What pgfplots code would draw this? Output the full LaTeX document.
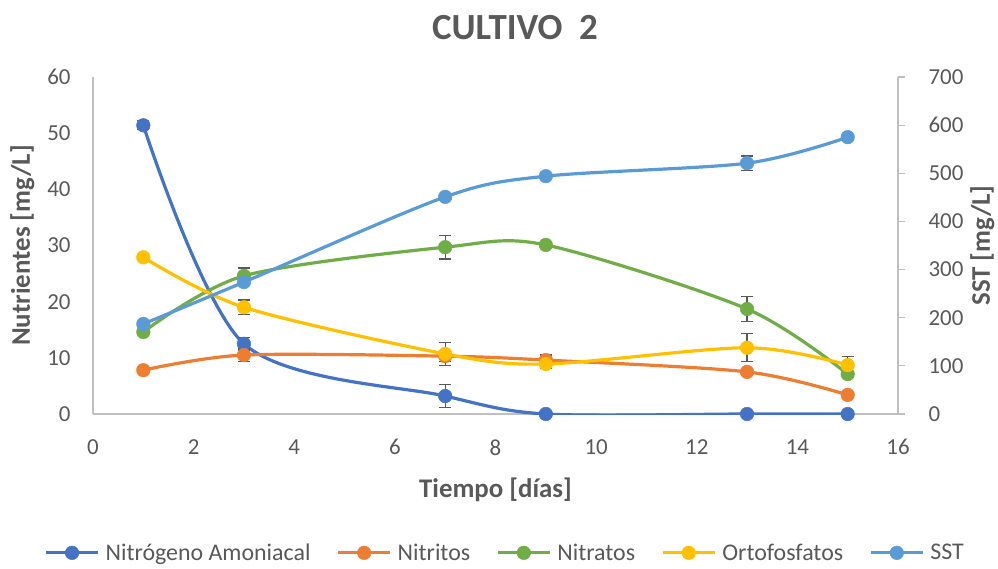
\documentclass[border=0pt]{standalone}
\usepackage{pgfplots}
\pgfplotsset{compat=1.18}
\usepackage{fontspec}
\setmainfont{Carlito}
\definecolor{txt}{RGB}{89,89,89}
\definecolor{axln}{RGB}{191,191,191}
\definecolor{cN}{HTML}{4472C4}
\definecolor{cNi}{HTML}{ED7D31}
\definecolor{cNa}{HTML}{70AD47}
\definecolor{cO}{HTML}{FFC000}
\definecolor{cS}{HTML}{5B9BD5}
\pgfplotsset{
  base/.style={
    scale only axis, width=805bp, height=337bp,
    xmin=0, xmax=16, xtick={0,2,...,16},
    axis line style={axln, line width=1.2bp},
    tick label style={font=\fontsize{23}{27}\selectfont, text=txt},
    label style={font=\fontsize{27}{32}\selectfont\bfseries, text=txt},
    /pgf/number format/assume math mode=true,
    major tick length=0pt,
  },
  ser/.style={color=#1, line width=3.2bp, smooth, tension=0.5, mark=*, mark size=6.8bp,
    mark options={solid, fill=#1, draw=#1, line width=0.5bp},
    error bars/.cd, y dir=both, y explicit,
    error bar style={color=txt, line width=1.2bp},
    error mark options={rotate=90, mark size=6bp, line width=1.2bp, color=txt}},
}
\begin{document}
\begin{tikzpicture}
\useasboundingbox (-93bp,-155bp) rectangle (905bp,414bp);
\begin{axis}[base,
  ymin=0, ymax=60, ytick={0,10,...,60},
  axis x line*=bottom, axis y line*=left,
  xlabel={Tiempo [días]}, ylabel={Nutrientes [mg/L]},
  xticklabel style={yshift=-22bp},
  yticklabel style={xshift=-19bp},
  xlabel style={yshift=-16bp},
  ylabel style={yshift=6bp},
  legend columns=5,
  legend style={at={(0.512,-0.412)}, anchor=center, draw=none,
    font=\fontsize{24}{28}\selectfont, text=txt,
    /tikz/every odd column/.append style={column sep=4bp},
    /tikz/every even column/.append style={column sep=24bp}},
  legend image code/.code={
    \draw[#1, mark=none, line width=3.2bp] (0bp,0bp) -- (52bp,0bp);
    \draw[#1, only marks] plot coordinates {(26bp,0bp)};
  },
]
\addplot+[ser=cN] table[x=x, y=y, y error=e] {
x y e
1 51.4 0.8
3 12.5 1.1
7 3.2 2.0
9 0.0 0
13 0.0 0
15 0.0 0
};
\addlegendentry{Nitrógeno Amoniacal}
\addplot+[ser=cNi] table[x=x, y=y, y error=e] {
x y e
1 7.8 0
3 10.5 1.2
7 10.3 1.0
9 9.6 0.9
13 7.5 0
15 3.4 0
};
\addlegendentry{Nitritos}
\addplot+[ser=cNa] table[x=x, y=y, y error=e] {
x y e
1 14.6 0
3 24.6 1.4
7 29.7 2.1
9 30.1 0.4
13 18.7 2.2
15 7.1 0
};
\addlegendentry{Nitratos}
\addplot+[ser=cO] table[x=x, y=y, y error=e] {
x y e
1 27.9 0
3 19.0 1.3
7 10.7 2.1
9 8.9 0.8
13 11.8 2.5
15 8.7 1.6
};
\addlegendentry{Ortofosfatos}
\addlegendimage{ser=cS}
\addlegendentry{SST}
\end{axis}
\begin{axis}[base,
  ymin=0, ymax=700, ytick={0,100,...,700},
  axis x line=none, axis y line*=right,
  ylabel={SST [mg/L]},
  yticklabel style={xshift=20bp},
  ytick style={axln, line width=1.2bp},
  ytick align=outside, major tick length=7bp,
  ylabel style={yshift=0bp},
]
\addplot+[ser=cS] table[x=x, y=y, y error=e] {
x y e
1 187 0
3 274 6
7 451 0
9 494 0
13 521 15
15 575 0
};
\end{axis}
\node[font=\fontsize{37}{44}\selectfont\bfseries, text=txt] at (422bp,386bp) {CULTIVO\ \ 2};
\end{tikzpicture}
\end{document}
